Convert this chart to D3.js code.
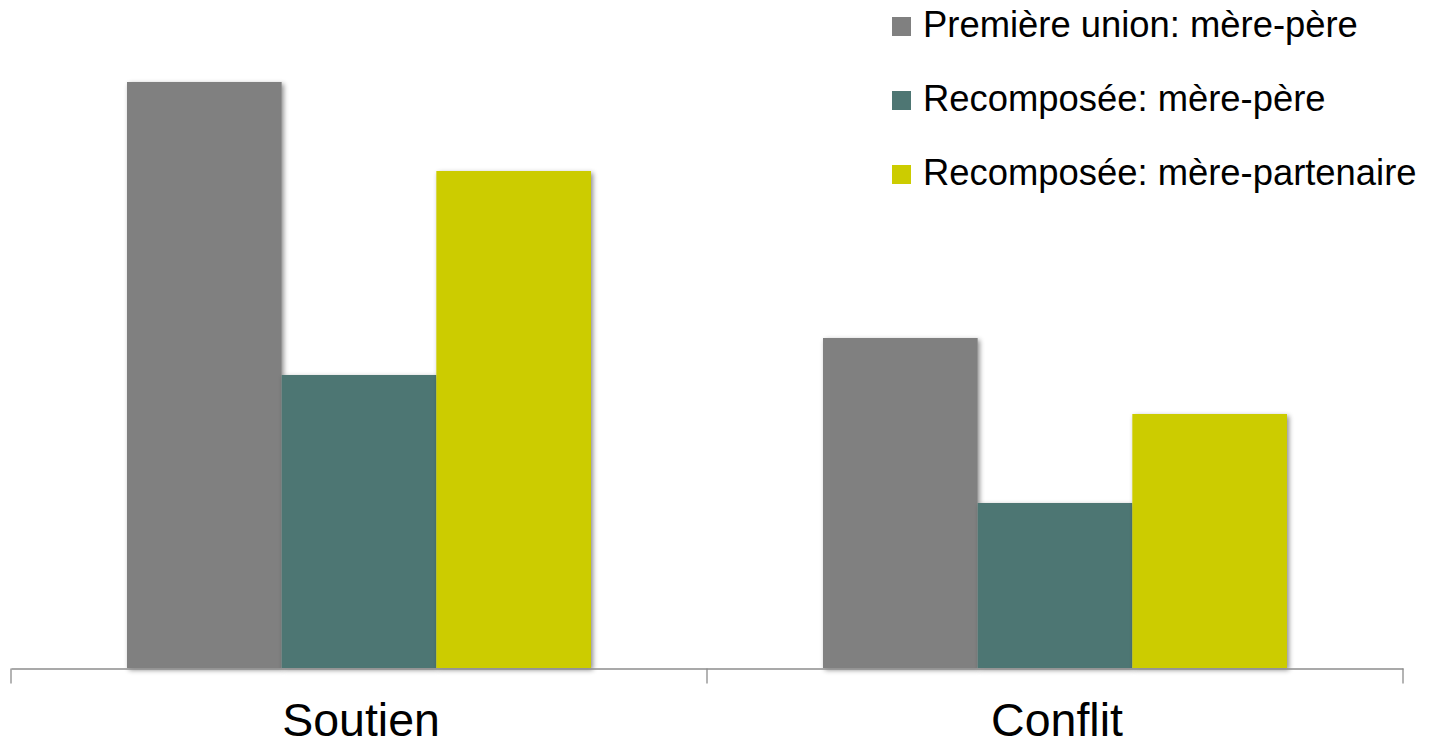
<!DOCTYPE html>
<html>
<head>
<meta charset="utf-8">
<script src="https://cdn.jsdelivr.net/npm/d3@7"></script>
<style>
  body { margin: 0; background: #fff; }
  svg { display: block; font-family: "Liberation Sans", Arial, sans-serif; }
</style>
</head>
<body>
<svg class="chart"></svg>
<script>
// chart data
var categories = ["Soutien", "Conflit"];
var seriesNames = ["Première union: mère-père", "Recomposée: mère-père", "Recomposée: mère-partenaire"];
var seriesColors = ["#808080", "#4e7673", "#cccc00"];
var premiereUnion = [5.86, 3.30];
var recomposeePere = [2.93, 1.65];
var recomposeePartenaire = [4.97, 2.54];

var width = 1429, height = 747;
var left = 11, right = 1403, baseline = 668;

var data = categories.map(function(c, i) {
  return { category: c, values: [premiereUnion[i], recomposeePere[i], recomposeePartenaire[i]] };
});

var chart = d3.select(".chart")
  .attr("width", width)
  .attr("height", height);

// soft shadow under bars
var defs = chart.append("defs");
defs.append("filter")
  .attr("id", "shadow")
  .attr("x", "-10%").attr("y", "-10%")
  .attr("width", "120%").attr("height", "120%")
  .append("feDropShadow")
  .attr("dx", 2).attr("dy", 2)
  .attr("stdDeviation", 2.5)
  .attr("flood-color", "#000")
  .attr("flood-opacity", 0.45);

var x0 = d3.scaleBand()
  .domain(categories)
  .range([left, right])
  .paddingInner(0)
  .paddingOuter(0);

var x1 = d3.scaleBand()
  .domain(d3.range(seriesNames.length))
  .range([116, x0.bandwidth() - 116]);

var y = d3.scaleLinear()
  .domain([0, 6])
  .range([baseline, 68]);

// bars, one group per category
var group = chart.selectAll("g.cat")
  .data(data)
  .enter().append("g")
  .attr("class", "cat")
  .attr("transform", function(d) { return "translate(" + x0(d.category) + ",0)"; });

group.selectAll("rect")
  .data(function(d) { return d.values; })
  .enter().append("rect")
  .attr("x", function(d, i) { return x1(i); })
  .attr("y", function(d) { return y(d); })
  .attr("width", x1.bandwidth())
  .attr("height", function(d) { return baseline - y(d); })
  .attr("fill", function(d, i) { return seriesColors[i]; })
  .attr("filter", "url(#shadow)");

// category axis at the bottom
var xAxis = d3.axisBottom(x0)
  .tickSize(0)
  .tickFormat("");

var axisG = chart.append("g")
  .attr("class", "x axis")
  .attr("transform", "translate(0," + (baseline + 0.5) + ")")
  .call(xAxis);
axisG.select(".domain").attr("stroke", "#8c8c8c").attr("stroke-width", 1.3);

// tick marks between categories
var tickPos = [left].concat(categories.map(function(c) { return x0(c) + x0.bandwidth(); }));
axisG.selectAll("line.sep")
  .data(tickPos)
  .enter().append("line")
  .attr("class", "sep")
  .attr("x1", function(d) { return d; })
  .attr("x2", function(d) { return d; })
  .attr("y1", 0)
  .attr("y2", 15)
  .attr("stroke", "#8c8c8c")
  .attr("stroke-width", 1.3);

// category labels
chart.selectAll("text.cat-label")
  .data(categories)
  .enter().append("text")
  .attr("class", "cat-label")
  .attr("x", function(d) { return x0(d) + x0.bandwidth() / 2 + 2; })
  .attr("y", 736)
  .attr("text-anchor", "middle")
  .style("font-size", "46.5px")
  .style("fill", "#000")
  .text(function(d) { return d; });

// legend
var legend = chart.selectAll("g.legend")
  .data(seriesNames)
  .enter().append("g")
  .attr("class", "legend")
  .attr("transform", function(d, i) { return "translate(892," + (17 + i * 74) + ")"; });

legend.append("rect")
  .attr("width", 19)
  .attr("height", 19)
  .attr("fill", function(d, i) { return seriesColors[i]; });

legend.append("text")
  .attr("x", 31)
  .attr("y", 20)
  .style("font-size", "36.4px")
  .style("fill", "#000")
  .text(function(d) { return d; });
</script>
</body>
</html>
